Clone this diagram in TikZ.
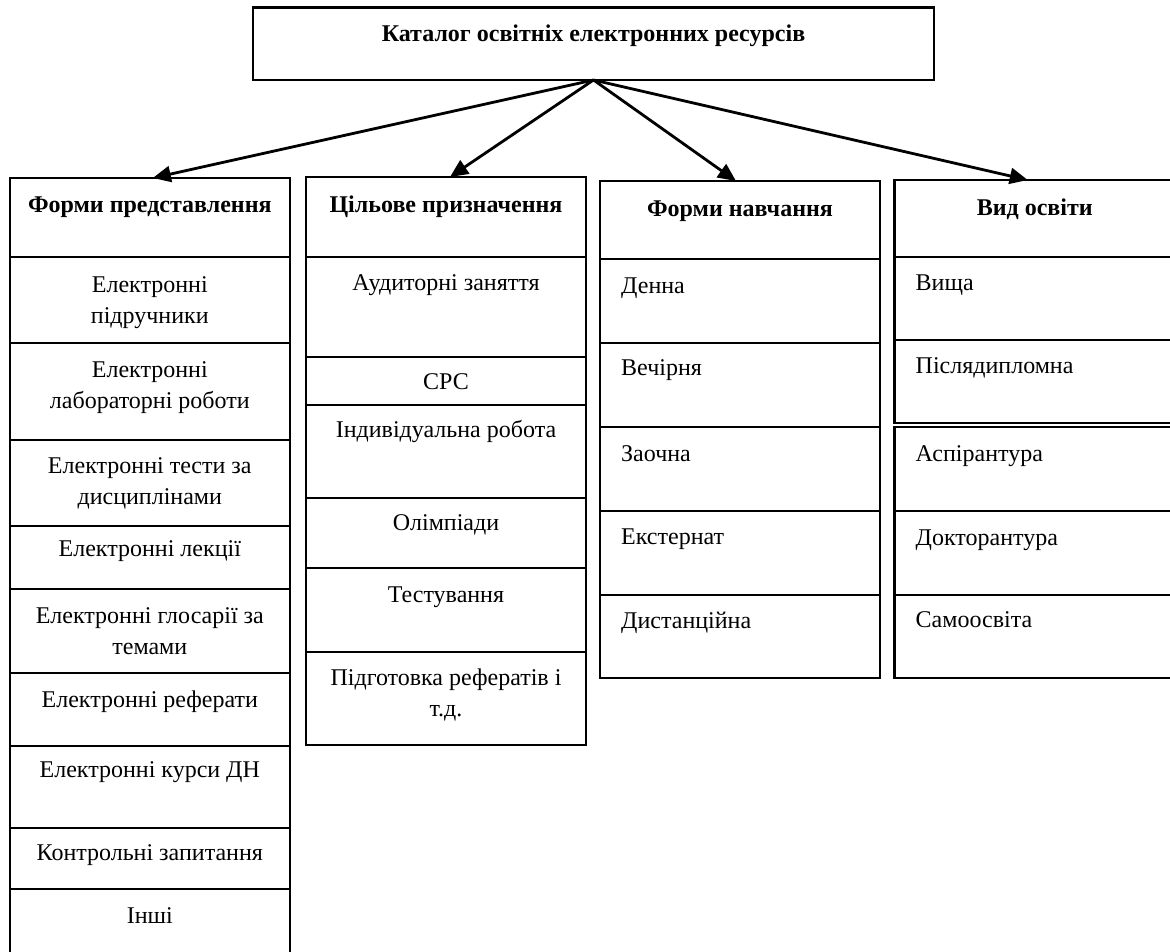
\documentclass[tikz,border=0pt]{standalone}
\usepackage{fontspec}
\setmainfont{Liberation Serif}
\usetikzlibrary{arrows.meta,fit}
\begin{document}
\begin{tikzpicture}[x=1pt,y=-1pt,
  cellbox/.style={draw, line width=2.2pt, inner sep=0pt, outer sep=0pt},
  txt/.style={inner sep=0pt, align=center, font=\fontsize{24}{31}\selectfont},
  hdr/.style={inner sep=0pt, align=center, font=\fontsize{24}{31}\selectfont\bfseries},
  arr/.style={line width=2.8pt, -{Triangle[length=18pt,width=16pt]}}]
\fill[white] (0,0) rectangle (1170,951);
\clip (0,0) rectangle (1170,951);
% top box
\node[cellbox, fit={(253,7.5) (934,80)}] (top) {};
\node[hdr, anchor=base] (topt) at ([yshift=-34pt]top.north) {Каталог освітніх електронних ресурсів};
% column 1
\node[cellbox, fit={(9.6,178) (290,257)}] (h1) {};
\node[cellbox, fit={(9.6,257) (290,343)}] (c1a) {};
\node[cellbox, fit={(9.6,343) (290,440)}] (c1b) {};
\node[cellbox, fit={(9.6,440) (290,526)}] (c1c) {};
\node[cellbox, fit={(9.6,526) (290,589)}] (c1d) {};
\node[cellbox, fit={(9.6,589) (290,673)}] (c1e) {};
\node[cellbox, fit={(9.6,673) (290,746)}] (c1f) {};
\node[cellbox, fit={(9.6,746) (290,828)}] (c1g) {};
\node[cellbox, fit={(9.6,828) (290,889)}] (c1h) {};
\node[cellbox, fit={(9.6,889) (290,960)}] (c1i) {};
\node[hdr, anchor=base] (h1t) at ([yshift=-34pt]h1.north) {Форми представлення};
\node[txt, anchor=base] (c1at) at ([yshift=-66pt]c1a.north) {Електронні\\підручники};
\node[txt, anchor=base] (c1bt) at ([yshift=-65pt]c1b.north) {Електронні\\лабораторні роботи};
\node[txt, anchor=base] (c1ct) at ([yshift=-64pt]c1c.north) {Електронні тести за\\дисциплінами};
\node[txt, anchor=base] (c1dt) at ([yshift=-30pt]c1d.north) {Електронні лекції};
\node[txt, anchor=base] (c1et) at ([yshift=-65pt]c1e.north) {Електронні глосарії за\\темами};
\node[txt, anchor=base] (c1ft) at ([yshift=-34pt]c1f.north) {Електронні реферати};
\node[txt, anchor=base] (c1gt) at ([yshift=-31pt]c1g.north) {Електронні курси ДН};
\node[txt, anchor=base] (c1ht) at ([yshift=-32pt]c1h.north) {Контрольні запитання};
\node[txt, anchor=base] (c1it) at ([yshift=-34pt]c1i.north) {Інші};
% column 2
\node[cellbox, fit={(306,177) (586,257)}] (h2) {};
\node[cellbox, fit={(306,257) (586,357)}] (c2a) {};
\node[cellbox, fit={(306,357) (586,405)}] (c2b) {};
\node[cellbox, fit={(306,405) (586,498)}] (c2c) {};
\node[cellbox, fit={(306,498) (586,568)}] (c2d) {};
\node[cellbox, fit={(306,568) (586,652)}] (c2e) {};
\node[cellbox, fit={(306,652) (586,745)}] (c2f) {};
\node[hdr, anchor=base] (h2t) at ([yshift=-35pt]h2.north) {Цільове призначення};
\node[txt, anchor=base] (c2at) at ([yshift=-33pt]c2a.north) {Аудиторні заняття};
\node[txt, anchor=base] (c2bt) at ([yshift=-32pt]c2b.north) {СРС};
\node[txt, anchor=base] (c2ct) at ([yshift=-32pt]c2c.north) {Індивідуальна робота};
\node[txt, anchor=base] (c2dt) at ([yshift=-32pt]c2d.north) {Олімпіади};
\node[txt, anchor=base] (c2et) at ([yshift=-34pt]c2e.north) {Тестування};
\node[txt, anchor=base] (c2ft) at ([yshift=-64pt]c2f.north) {Підготовка рефератів і\\т.д.};
% column 3
\node[cellbox, fit={(600,181) (880,259)}] (h3) {};
\node[cellbox, fit={(600,259) (880,343)}] (c3a) {};
\node[cellbox, fit={(600,343) (880,427)}] (c3b) {};
\node[cellbox, fit={(600,427) (880,511)}] (c3c) {};
\node[cellbox, fit={(600,511) (880,595)}] (c3d) {};
\node[cellbox, fit={(600,595) (880,678)}] (c3e) {};
\node[hdr, anchor=base] (h3t) at ([yshift=-35pt]h3.north) {Форми навчання};
\node[txt, anchor=base west] (c3at) at ([xshift=21pt,yshift=-34pt]c3a.north west) {Денна};
\node[txt, anchor=base west] (c3bt) at ([xshift=21pt,yshift=-32pt]c3b.north west) {Вечірня};
\node[txt, anchor=base west] (c3ct) at ([xshift=21pt,yshift=-34pt]c3c.north west) {Заочна};
\node[txt, anchor=base west] (c3dt) at ([xshift=21pt,yshift=-33pt]c3d.north west) {Екстернат};
\node[txt, anchor=base west] (c3et) at ([xshift=21pt,yshift=-33pt]c3e.north west) {Дистанційна};
% column 4
\node[cellbox, fit={(894.5,180) (1175,257)}] (h4) {};
\node[cellbox, fit={(894.5,257) (1175,340)}] (c4a) {};
\node[cellbox, fit={(894.5,340) (1175,423)}] (c4b) {};
\node[cellbox, fit={(894.5,427) (1175,511)}] (c4c) {};
\node[cellbox, fit={(894.5,511) (1175,595)}] (c4d) {};
\node[cellbox, fit={(894.5,595) (1175,678)}] (c4e) {};
\node[hdr, anchor=base] (h4t) at ([yshift=-35pt]h4.north) {Вид освіти};
\node[txt, anchor=base west] (c4at) at ([xshift=21pt,yshift=-33pt]c4a.north west) {Вища};
\node[txt, anchor=base west] (c4bt) at ([xshift=21pt,yshift=-33pt]c4b.north west) {Післядипломна};
\node[txt, anchor=base west] (c4ct) at ([xshift=21pt,yshift=-34pt]c4c.north west) {Аспірантура};
\node[txt, anchor=base west] (c4dt) at ([xshift=21pt,yshift=-34pt]c4d.north west) {Докторантура};
\node[txt, anchor=base west] (c4et) at ([xshift=21pt,yshift=-32pt]c4e.north west) {Самоосвіта};
% arrows
\draw[arr] (top.south) -- ([xshift=3pt]h1.north);
\draw[arr] (top.south) -- ([xshift=4pt]h2.north);
\draw[arr] (top.south) -- ([xshift=-4pt]h3.north);
\draw[arr] (top.south) -- ([xshift=-7pt]h4.north);
\end{tikzpicture}
\end{document}
